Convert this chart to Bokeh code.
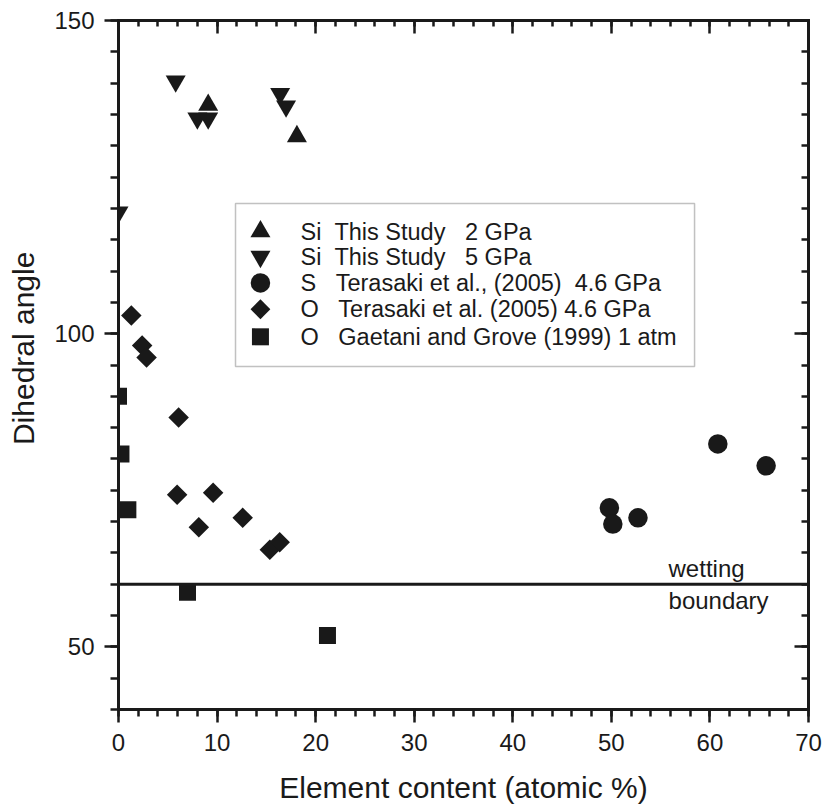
from bokeh.plotting import figure
from bokeh.models import (LinearAxis, Range1d, FixedTicker, Span, Label,
                          BoxAnnotation)
from bokeh.embed import file_html
from bokeh.resources import INLINE
import math

# ---- data -------------------------------------------------------------
si_2gpa_x = [9.1, 18.1]
si_2gpa_y = [136.5, 131.5]

si_5gpa_x = [0.0, 5.8, 8.0, 9.1, 16.4, 17.0]
si_5gpa_y = [119.4, 140.3, 134.4, 134.4, 138.3, 136.3]

s_terasaki_x = [49.8, 50.15, 52.7, 60.8, 65.7]
s_terasaki_y = [72.2, 69.6, 70.6, 82.4, 78.9]

o_terasaki_x = [1.3, 2.4, 2.85, 6.1, 5.95, 9.6, 8.15, 12.6, 15.35, 16.35]
o_terasaki_y = [102.9, 98.1, 96.2, 86.6, 74.3, 74.6, 69.1, 70.6, 65.5, 66.7]

o_gaetani_x = [0.0, 0.25, 0.95, 7.0, 21.2]
o_gaetani_y = [90.0, 80.8, 71.9, 58.7, 51.8]

wetting_angle = 60

x_major = list(range(0, 71, 10))
x_minor = list(range(0, 71, 2))
y_major = [50, 100, 150]
y_minor = list(range(40, 151, 5))

legend_labels = [
    "Si  This Study   2 GPa",
    "Si  This Study   5 GPa",
    "S   Terasaki et al., (2005)  4.6 GPa",
    "O   Terasaki et al. (2005) 4.6 GPa",
    "O   Gaetani and Grove (1999) 1 atm",
]

# ---- styling ----------------------------------------------------------
FONT = "Liberation Sans"
INK = "#1a1a1a"
MARK = "#191919"
NBSP = "\u00a0"

p = figure(width=827, height=811,
           x_range=Range1d(0, 70), y_range=Range1d(40, 150),
           output_backend="svg", toolbar_location=None,
           min_border_left=118, min_border_right=19,
           min_border_top=20, min_border_bottom=102)
p.xgrid.visible = False
p.ygrid.visible = False
p.outline_line_color = None
p.background_fill_color = "white"
p.border_fill_color = "white"


def style_axis(ax, ticks, minor, tick_in, tick_out, minor_in, minor_out,
               labels=True):
    ax.ticker = FixedTicker(ticks=ticks, minor_ticks=minor)
    ax.axis_line_width = 3
    ax.axis_line_color = INK
    ax.axis_line_cap = "square"
    ax.major_tick_line_width = 2.5
    ax.minor_tick_line_width = 2.5
    ax.major_tick_line_color = INK
    ax.minor_tick_line_color = INK
    ax.major_tick_in = tick_in
    ax.major_tick_out = tick_out
    ax.minor_tick_in = minor_in
    ax.minor_tick_out = minor_out
    ax.major_label_text_font = FONT
    ax.axis_label_text_font = FONT
    ax.axis_label_text_font_style = "normal"
    ax.axis_label_text_color = INK
    ax.axis_label_text_font_size = "30px"
    if labels:
        ax.major_label_text_color = INK
        ax.major_label_text_font_size = "24px"
    else:
        # tick marks only on the mirrored sides
        ax.major_label_text_color = None
        ax.major_label_text_font_size = "1px"
        ax.major_label_standoff = 0


xb = p.xaxis[0]
style_axis(xb, x_major, x_minor, 0, 13, 0, 7)
xb.major_label_standoff = 11
xb.axis_label = "Element content (atomic %)"
xb.axis_label_standoff = 17

yl = p.yaxis[0]
style_axis(yl, y_major, y_minor, 0, 14, 0, 8)
yl.major_label_standoff = 10
# leading spaces lift the title a little above the frame's middle
yl.axis_label = NBSP * 4 + "Dihedral angle"
yl.axis_label_standoff = 11

xt = LinearAxis()
style_axis(xt, x_major, x_minor, 13, 0, 6, 0, labels=False)
p.add_layout(xt, "above")

yr = LinearAxis()
style_axis(yr, y_major, y_minor, 14, 0, 7, 0, labels=False)
p.add_layout(yr, "right")

# ---- wetting boundary -------------------------------------------------
p.add_layout(Span(location=wetting_angle, dimension="width",
                  line_color=INK, line_width=3))
p.add_layout(Label(x=55.8, y=wetting_angle, text="wetting",
                   text_font=FONT, text_font_size="24px", text_color=INK,
                   text_baseline="bottom", y_offset=2))
p.add_layout(Label(x=55.8, y=wetting_angle, text="boundary",
                   text_font=FONT, text_font_size="24px", text_color=INK,
                   text_baseline="top", y_offset=-3))

# ---- data markers -----------------------------------------------------
p.scatter(si_2gpa_x, si_2gpa_y, marker="triangle", size=20,
          fill_color=MARK, line_color=None)
p.scatter(si_5gpa_x, si_5gpa_y, marker="inverted_triangle", size=20,
          fill_color=MARK, line_color=None)
p.scatter(s_terasaki_x, s_terasaki_y, marker="circle", size=19.5,
          fill_color=MARK, line_color=None)
p.scatter(o_terasaki_x, o_terasaki_y, marker="square", angle=math.pi / 4,
          size=14.5, fill_color=MARK, line_color=None)
p.scatter(o_gaetani_x, o_gaetani_y, marker="square", size=17,
          fill_color=MARK, line_color=None)

# ---- legend box (drawn by hand so the keys keep full marker size) ------
box_left, box_right, box_top, box_bottom = 11.87, 58.44, 120.8, 94.76
key_x, text_x = 14.4, 18.46
row_y = [116.3, 112.3, 108.1, 103.9, 99.5]

p.add_layout(BoxAnnotation(left=box_left, right=box_right, top=box_top,
                           bottom=box_bottom, fill_color=None,
                           line_color="#333333", line_width=1.5))

key_styles = [
    dict(marker="triangle", size=20, angle=0),
    dict(marker="inverted_triangle", size=20, angle=0),
    dict(marker="circle", size=19.5, angle=0),
    dict(marker="square", size=14, angle=math.pi / 4),
    dict(marker="square", size=17, angle=0),
]
for ry, st, lab in zip(row_y, key_styles, legend_labels):
    p.scatter([key_x], [ry], marker=st["marker"], size=st["size"],
              angle=st["angle"], fill_color=MARK, line_color=None)
    p.add_layout(Label(x=text_x, y=ry, text=lab.replace(" ", NBSP),
                       text_font=FONT, text_font_size="23.5px",
                       text_color=INK, text_baseline="middle"))

open("out.html", "w").write(file_html(p, INLINE))
